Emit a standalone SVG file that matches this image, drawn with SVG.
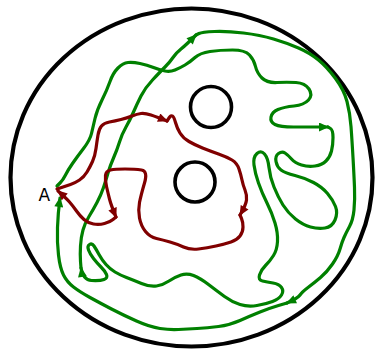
<svg xmlns="http://www.w3.org/2000/svg" width="377" height="351" viewBox="0 0 377 351">
<style>
.g{fill:none;stroke:#008000;stroke-width:3.2;stroke-linecap:round;stroke-linejoin:round;marker-end:url(#ag)}
.r{fill:none;stroke:#800000;stroke-width:3.2;stroke-linecap:round;stroke-linejoin:round;marker-end:url(#ar)}
.k{fill:none;stroke:#000;}
</style>
<defs>
<marker id="ag" viewBox="0 0 10 9" refX="9" refY="4.5" markerWidth="11" markerHeight="9" markerUnits="userSpaceOnUse" orient="auto"><path d="M0,0 L10,4.5 L0,9 z" fill="#008000"/></marker>
<marker id="ar" viewBox="0 0 10 9" refX="9" refY="4.5" markerWidth="11" markerHeight="9" markerUnits="userSpaceOnUse" orient="auto"><path d="M0,0 L10,4.5 L0,9 z" fill="#800000"/></marker>
</defs>
<rect width="377" height="351" fill="#fff"/>
<g id="region">
<ellipse class="k" cx="191.5" cy="177.5" rx="181" ry="169" stroke-width="4.2"/>
<circle id="hole1" class="k" cx="211" cy="107" r="20.5" stroke-width="3.6"/>
<circle id="hole2" class="k" cx="195" cy="182" r="20" stroke-width="3.6"/>
</g>
<g id="green-path">
<path class="g" d="M57,186 L60,183 Q63,180 65.5,175 Q68,170 72.5,163.5 Q77,157 83.5,148.5 Q90,140 91.5,133.5 Q93,127 95,118.5 Q97,110 102,100 Q107,90 110,81.5 Q113,73 118,68 Q123,63 128,62.5 Q133,62 140,63.5 Q147,65 153.5,67.5 Q160,70 165,71 Q170,72 175,70 Q180,68 185,65 Q190,62 195,57.5 Q200,53 210,51.5 Q220,50 232.5,50 Q245,50 249.5,55 Q254,60 255.5,66.5 Q257,73 262,78 Q267,83 277,82.5 Q287,82 296,82.5 Q305,83 309,89 Q313,95 308.5,100 Q304,105 294,106 Q284,107 278,109.5 Q272,112 271,117 Q270,122 275,124.5 Q280,127 293.5,127 L328,127"/>
<path class="g" d="M328,127 L330.5,128.5 Q333,130 333,137.5 Q333,145 331.5,151 Q330,157 326,161 Q322,165 315,166 Q308,167 301.5,165 Q295,163 291.5,159 Q288,155 285,153 Q282,151 278.5,153.5 Q275,156 276,161.5 Q277,167 281,170 Q285,173 295,175.5 Q305,178 313.5,182.5 Q322,187 327.5,193.5 Q333,200 335.5,206.5 Q338,213 335,220 Q332,227 325,228 Q318,229 310.5,227 Q303,225 295.5,219 Q288,213 283,205 Q278,197 274,187 Q270,177 269,167.5 Q268,158 264.5,154 Q261,150 257,153.5 Q253,157 254,165 Q255,173 258.5,183 Q262,193 267,203 Q272,213 275,223 Q278,233 277.5,241.5 Q277,250 273.5,255.5 Q270,261 265.5,265.5 Q261,270 259.5,275 Q258,280 262.5,281 Q267,282 273,283 Q279,284 281.5,287.5 Q284,291 281.5,295 Q279,299 272.5,301.5 Q266,304 257,305.5 Q248,307 240,304.5 Q232,302 224.5,296.5 Q217,291 208.5,284.5 Q200,278 193.5,275.5 Q187,273 181,275 Q175,277 169,281 Q163,285 156.5,286 Q150,287 141.5,283.5 Q133,280 126.5,277.5 Q120,275 115,272 Q110,269 106,264.5 Q102,260 99,254.5 Q96,249 94,246 Q92,243 89.5,244.5 Q87,246 88.5,250 Q90,254 93.5,258.5 Q97,263 101,267 Q105,271 106.5,274.5 Q108,278 104,279.5 Q100,281 91.5,280.5 Q83,280 81,268"/>
<path class="g" d="M81,268 L80.5,261.5 Q80,255 80.5,246 Q81,237 83,230 Q85,223 89,216.5 Q93,210 97,202.5 Q101,195 103.5,187.5 Q106,180 108,173 Q110,166 113.5,158 Q117,150 119.5,142 Q122,134 126,127 Q130,120 133.5,112 Q137,104 141,96 Q145,88 152.5,80 Q160,72 165,67 Q170,62 173,57.5 Q176,53 181,49 Q186,45 196,35"/>
<path class="g" d="M196,35 L199,33.5 Q202,32 214.5,31.5 Q227,31 243.5,33 Q260,35 273.5,39 Q287,43 298.5,48 Q310,53 318.5,60 Q327,67 335.5,78.5 Q344,90 347,101.5 Q350,113 351,126.5 Q352,140 353,157.5 Q354,175 354.5,187.5 Q355,200 354,210 Q353,220 349.5,226.5 Q346,233 344,237.5 Q342,242 340,249 Q338,256 332.5,264 Q327,272 320.5,277.5 Q314,283 308,287.5 Q302,292 300,295 Q298,298 287,303"/>
<path class="g" d="M287,303 L278.5,305.5 Q270,308 260,312 Q250,316 240,320.5 Q230,325 218.5,326.5 Q207,328 197,328.5 Q187,329 178.5,329.5 Q170,330 160,328.5 Q150,327 136.5,321 Q123,315 111.5,309 Q100,303 90,297.5 Q80,292 73.5,287 Q67,282 63.5,275 Q60,268 58.5,255 Q57,242 57.5,227.5 Q58,213 60,198"/>
</g>
<g id="red-path">
<path class="r" d="M57,189 L61.5,187.5 Q66,186 70.5,184.5 Q75,183 79.5,180 Q84,177 87,172 Q90,167 92.5,161.5 Q95,156 96,148.5 Q97,141 98,135 Q99,129 101.5,126 Q104,123 109.5,122 Q115,121 121,119.5 Q127,118 132,116 Q137,114 141,113.5 Q145,113 151,115 Q157,117 167,121"/>
<path class="r" d="M167,121 L169,118 Q171,115 172.5,116 Q174,117 175.5,122.5 Q177,128 180,133 Q183,138 189,141.5 Q195,145 202.5,148 Q210,151 218.5,154 Q227,157 232,160 Q237,163 239,169 Q241,175 242,180 Q243,185 245,190 Q247,195 246.5,200 Q246,205 240,215"/>
<path class="r" d="M240,215 L241.5,218.5 Q243,222 243,227 Q243,232 240,236 Q237,240 231,242 Q225,244 216,246 Q207,248 198.5,249 Q190,250 183.5,247 Q177,244 170,242 Q163,240 156.5,238.5 Q150,237 145.5,231.5 Q141,226 139.5,218 Q138,210 139.5,202.5 Q141,195 144.5,183 Q148,171 141.5,170 Q135,169 125,169 Q115,169 110.5,170 Q106,171 105.5,175.5 Q105,180 106.5,186.5 Q108,193 109.5,199 Q111,205 116,217"/>
<path class="r" d="M116,217 L113,219.5 Q110,222 104.5,223.5 Q99,225 93.5,224 Q88,223 84,219.5 Q80,216 76.5,211 Q73,206 69.5,202 Q66,198 58,191"/>
</g>
<text x="38.5" y="201" font-family="DejaVu Sans, sans-serif" font-size="17" fill="#000">A</text>
</svg>
